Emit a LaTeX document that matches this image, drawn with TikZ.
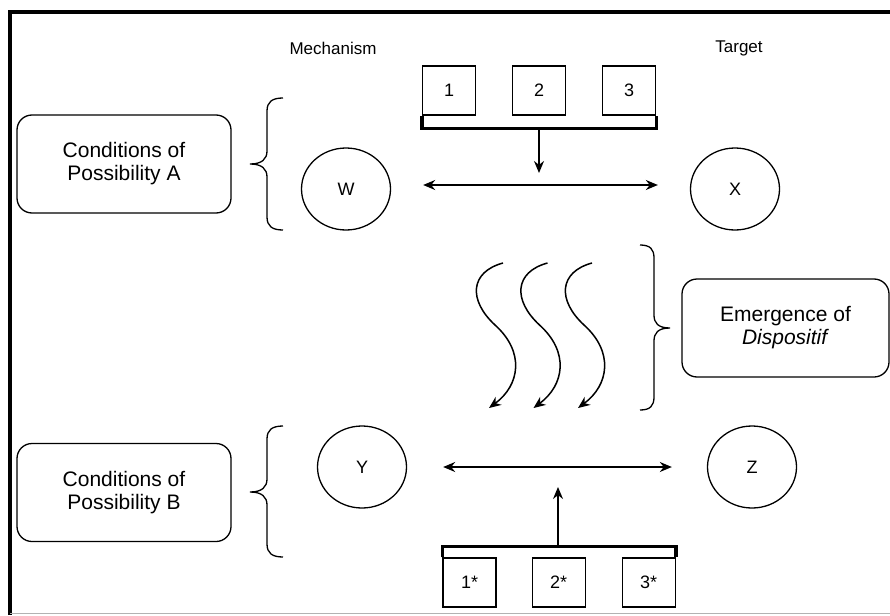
\documentclass[tikz,border=0pt]{standalone}
\usepackage{fontspec}
\setmainfont{Liberation Sans}
\usetikzlibrary{arrows.meta,positioning,shapes.geometric}

\begin{document}
\begin{tikzpicture}[
  x=1pt, y=-1pt,
  font=\fontsize{17}{20}\selectfont,
  state/.style={ellipse, draw, line width=1.3pt, minimum width=89pt, minimum height=82pt, inner sep=0pt,
    font=\fontsize{18}{20}\selectfont},
  cond/.style={draw, rounded corners=15pt, line width=1.3pt, minimum width=214pt, minimum height=98pt,
    align=center, font=\fontsize{21}{23}\selectfont},
  num/.style={draw, line width=1.1pt, minimum width=53pt, minimum height=49pt, inner sep=0pt,
    font=\fontsize{18}{20}\selectfont},
  bar/.style={line width=3.5pt},
  link/.style={line width=1.5pt, -{Stealth[length=12pt,width=10pt]}},
  dbl/.style={line width=1.5pt, {Stealth[length=12pt,width=10pt]}-{Stealth[length=12pt,width=10pt]}},
  curly/.style={line width=1.3pt},
]
\useasboundingbox (0,0) rectangle (890,615);
% frame
\draw[line width=4pt] (10,615) -- (10,12) -- (890,12);
\draw[gray!60, line width=1pt] (10,613.5) -- (890,613.5);

% column heads
\node (mech) at (333,48) {Mechanism};
\node (targ) at (739,48) {Target};

% upper row
\node[num] (n1) at (449,90.5) {1};
\node[num, right=36pt of n1] (n2) {2};
\node[num, right=36pt of n2] (n3) {3};
\draw[bar] (n1.south west) -- ++(0,13) -| (n3.south east);
\coordinate (topbar) at (539,128);
\coordinate (toptip) at (539,173);
\draw[link] (topbar) -- (toptip);

\node[state] (W) at (346,189) {W};
\node[state] (X) at (735,189) {X};
\draw[dbl] ([shift={(32,-4)}]W.east) -- ([shift={(-32,-4)}]X.west);

% lower row
\node[state] (Y) at (362,467) {Y};
\node[state] (Z) at (752,467) {Z};
\draw[dbl] ([xshift=36pt]Y.east) -- ([xshift=-35pt]Z.west);

\node[num] (s1) at (469.5,582.5) {1*};
\node[num, right=35pt of s1] (s2) {2*};
\node[num, right=36pt of s2] (s3) {3*};
\draw[bar] (s1.north west) -- ++(0,-11) -| (s3.north east);
\coordinate (botbar) at (558,547);
\coordinate (bottip) at (558,487);
\draw[link] (botbar) -- (bottip);

% side boxes
\node[cond] (condA) at (124,164) {Conditions of\\Possibility A};
\node[cond] (condB) at (124,492.5) {Conditions of\\Possibility B};
\node[cond, minimum width=207pt] (emerg) at (785.5,328) {Emergence of\\\textit{Dispositif}};

% braces
\draw[curly] (283,98) .. controls (272,98) and (267,102) .. (267,111) -- (267,151)
  .. controls (267,159) and (262,164) .. (250,164) .. controls (262,164) and (267,169) .. (267,177)
  -- (267,217) .. controls (267,226) and (272,230) .. (283,230);
\draw[curly] (283,426) .. controls (272,426) and (267,430) .. (267,439) -- (267,479)
  .. controls (267,487) and (262,492) .. (250,492) .. controls (262,492) and (267,497) .. (267,505)
  -- (267,544) .. controls (267,553) and (272,557) .. (283,557);
\draw[curly] (640,245) .. controls (650,245) and (654,249) .. (654,258) -- (654,315)
  .. controls (654,323) and (658,328) .. (670,328) .. controls (658,328) and (654,333) .. (654,341)
  -- (654,397) .. controls (654,406) and (650,410) .. (640,410);

% emergence
\foreach \dx in {0,44.5,89}
  \draw[link] ({503+\dx},263) .. controls ({470+\dx},272) and ({468+\dx},300) .. ({495+\dx},325)
    .. controls ({525+\dx},352) and ({520+\dx},385) .. ({489+\dx},408);
\end{tikzpicture}
\end{document}
